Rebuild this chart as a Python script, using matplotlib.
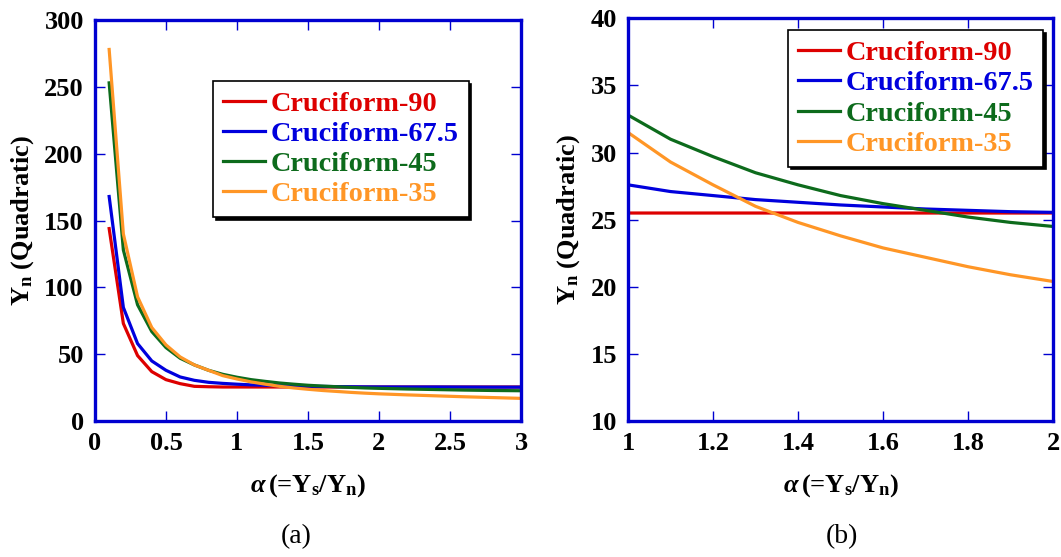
import matplotlib
matplotlib.use("Agg")
import matplotlib.pyplot as plt

plt.rcParams["font.family"] = ["Liberation Serif", "DejaVu Serif"]
plt.rcParams["mathtext.fontset"] = "custom"
plt.rcParams["mathtext.rm"] = "Liberation Serif:bold"
plt.rcParams["mathtext.bf"] = "Liberation Serif:bold"
plt.rcParams["mathtext.it"] = "Liberation Serif:italic:bold"

# data, alpha = Ys/Yn
alpha = [0.1, 0.2, 0.3, 0.4, 0.5, 0.6, 0.7, 0.8, 0.9, 1.0,
         1.1, 1.2, 1.3, 1.4, 1.5, 1.6, 1.7, 1.8, 1.9, 2.0,
         2.2, 2.4, 2.6, 2.8, 3.0]
cruci_90 = [144, 73, 49, 37, 31, 28, 26, 25.7, 25.5, 25.5,
            25.5, 25.5, 25.5, 25.5, 25.5, 25.5, 25.5, 25.5, 25.5, 25.5,
            25.5, 25.5, 25.5, 25.5, 25.5]
cruci_675 = [168, 85, 58, 45, 38, 33, 30.5, 29, 28.2, 27.6,
             27.1, 26.8, 26.5, 26.3, 26.1, 25.95, 25.8, 25.7, 25.6, 25.55,
             25.5, 25.5, 25.45, 25.4, 25.4]
cruci_45 = [253, 128, 87, 67, 55, 47, 42, 38, 35, 32.8,
            31.0, 29.7, 28.5, 27.6, 26.8, 26.2, 25.7, 25.2, 24.8, 24.5,
            24.0, 23.6, 23.2, 22.9, 22.7]
cruci_35 = [278, 140, 93, 70, 57, 48, 42, 38, 34, 31.5,
            29.3, 27.6, 26.0, 24.8, 23.8, 22.9, 22.2, 21.5, 20.9, 20.4,
            19.6, 18.9, 18.2, 17.6, 17.0]

series = [
    ("Cruciform-90", cruci_90, "#dd0000"),
    ("Cruciform-67.5", cruci_675, "#0000dd"),
    ("Cruciform-45", cruci_45, "#0d6b1c"),
    ("Cruciform-35", cruci_35, "#ff9626"),
]

blue = "#0000d0"

fig = plt.figure(figsize=(10.61, 5.57), dpi=100)
ax1 = fig.add_axes([0.0895, 0.244, 0.4015, 0.720])
ax2 = fig.add_axes([0.5919, 0.244, 0.4006, 0.723])


def style(ax, xlim, ylim, xticks, yticks, xlabels):
    ax.set_xlim(*xlim)
    ax.set_ylim(*ylim)
    ax.set_xticks(xticks)
    ax.set_xticklabels(xlabels)
    ax.set_yticks(yticks)
    for s in ax.spines.values():
        s.set_color(blue)
        s.set_linewidth(2.4)
    ax.tick_params(direction="in", length=7, width=1, color=blue,
                   top=True, right=True, labelsize=19, pad=8)
    for lab in ax.get_xticklabels() + ax.get_yticklabels():
        lab.set_fontweight("bold")
    ax.set_xlabel(r"$\alpha\,$(=Y$_\mathrm{s}$/Y$_\mathrm{n}$)",
                  fontsize=19, fontweight="bold", labelpad=12)
    ax.set_ylabel(r"Y$_\mathrm{n}$ (Quadratic)", fontsize=19,
                  fontweight="bold", labelpad=6)


for ax in (ax1, ax2):
    for name, vals, col in series:
        ax.plot(alpha, vals, color=col, lw=2.3, label=name)

style(ax1, (0, 3), (0, 300), [0, 0.5, 1, 1.5, 2, 2.5, 3],
      [0, 50, 100, 150, 200, 250, 300],
      ["0", "0.5", "1", "1.5", "2", "2.5", "3"])
style(ax2, (1, 2), (10, 40), [1, 1.2, 1.4, 1.6, 1.8, 2],
      [10, 15, 20, 25, 30, 35, 40],
      ["1", "1.2", "1.4", "1.6", "1.8", "2"])

for ax, anchor in ((ax1, (0.277, 0.848)), (ax2, (0.376, 0.970))):
    leg = ax.legend(loc="upper left", bbox_to_anchor=anchor, fancybox=False,
                    shadow={"color": "black", "alpha": 1},
                    framealpha=1, edgecolor="black", borderpad=0.35,
                    borderaxespad=0, labelspacing=0.16, handlelength=1.5,
                    handletextpad=0.2, prop={"size": 20.3, "weight": "bold"})
    leg.get_frame().set_linewidth(1.2)
    for txt, (_, _, col) in zip(leg.get_texts(), series):
        txt.set_color(col)

fig.text(0.279, 0.025, "(a)", fontsize=20, ha="center")
fig.text(0.794, 0.025, "(b)", fontsize=20, ha="center")

fig.savefig("out.png", dpi=100)
